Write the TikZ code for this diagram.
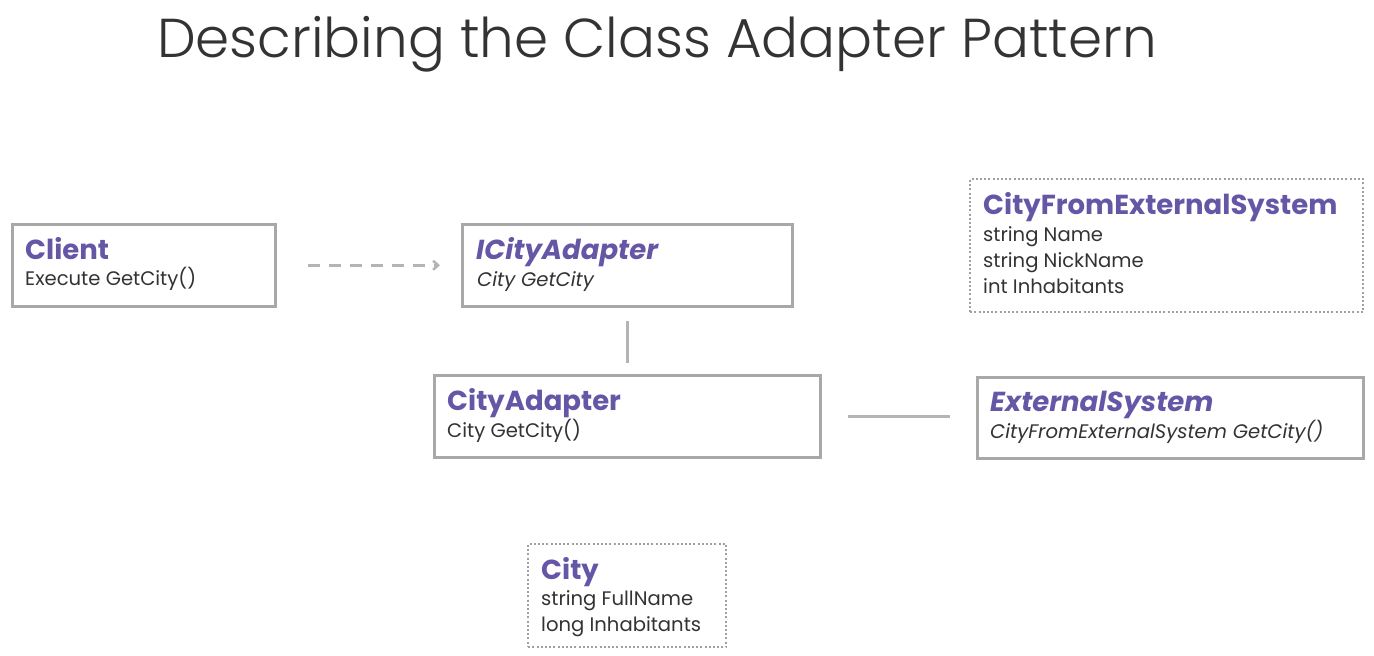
\documentclass[tikz,border=0pt]{standalone}
\usepackage{fontspec}
\setmainfont{Poppins}
\newfontfamily\titlefont{Poppins Light}
\usetikzlibrary{arrows.meta}
\definecolor{boxgray}{HTML}{A8A8A8}
\definecolor{dotgray}{HTML}{A0A0A0}
\definecolor{linegray}{HTML}{B4B4B4}
\definecolor{purp}{HTML}{6556A6}
\definecolor{txt}{HTML}{333333}
\tikzset{
  umlbox/.style={draw=boxgray, line width=2.5pt, fill=white, anchor=north west, inner sep=0pt},
  dotbox/.style={draw=dotgray, line width=2.4pt, dash pattern=on 2pt off 2.2pt, anchor=north west, inner sep=0pt},
  cname/.style={anchor=base west, inner sep=0pt, text=purp, font=\fontsize{27.5}{32}\selectfont\bfseries},
  cnamei/.style={cname, font=\fontsize{27.5}{32}\selectfont\bfseries\itshape},
  member/.style={anchor=base west, inner sep=0pt, text=txt, font=\fontsize{19.6}{26}\selectfont},
  memberi/.style={member, font=\fontsize{19.6}{26}\selectfont\itshape},
  conn/.style={draw=linegray, line width=2.5pt},
}
\begin{document}
\begin{tikzpicture}[x=1pt,y=-1pt]
\useasboundingbox (0,0) rectangle (1374,656);
\node[anchor=base west, inner sep=0pt, text=txt, font=\fontsize{54.8}{60}\selectfont\titlefont] (title) at (157,57) {Describing the Class Adapter Pattern};

\node[umlbox, minimum width=263pt, minimum height=82pt] (client) at (11,223) {};
\node[cname] (clientn) at (25,259) {Client};
\node[member] (clientm) at (25,285) {Execute GetCity()};

\node[umlbox, minimum width=330pt, minimum height=82pt] (icity) at (461,223) {};
\node[cnamei] (icityn) at (476,259) {ICityAdapter};
\node[memberi] (icitym) at (477,286) {City GetCity};

\node[dotbox, minimum width=393pt, minimum height=133pt] (cfes) at (969,178) {};
\node[cname] (cfesn) at (983,214) {CityFromExternalSystem};
\node[member] (cfes1) at (983,241) {string Name};
\node[member] (cfes2) at (983,267) {string NickName};
\node[member] (cfes3) at (983,293) {int Inhabitants};

\node[umlbox, minimum width=386pt, minimum height=82pt] (adapter) at (433,374) {};
\node[cname] (adaptern) at (447,410) {CityAdapter};
\node[member] (adapterm) at (447,437) {City GetCity()};

\node[umlbox, minimum width=386pt, minimum height=81pt] (ext) at (976,376) {};
\node[cnamei] (extn) at (990,411) {ExternalSystem};
\node[memberi] (extm) at (990,438) {CityFromExternalSystem GetCity()};

\node[dotbox, minimum width=198pt, minimum height=103pt] (city) at (527,543) {};
\node[cname] (cityn) at (541,579) {City};
\node[member] (city1) at (541,605) {string FullName};
\node[member] (city2) at (541,631) {long Inhabitants};

\draw[conn, dash pattern=on 12pt off 9pt, -{Straight Barb[length=5pt,width=9pt]}, shorten <=31pt, shorten >=21pt] (client.east) -- (icity.west);
\draw[conn, shorten <=13pt, shorten >=11pt] (icity.south) -- (adapter.north);
\draw[conn, shorten <=26pt, shorten >=26pt] (adapter.east) -- (ext.west |- adapter.east);
\end{tikzpicture}
\end{document}
